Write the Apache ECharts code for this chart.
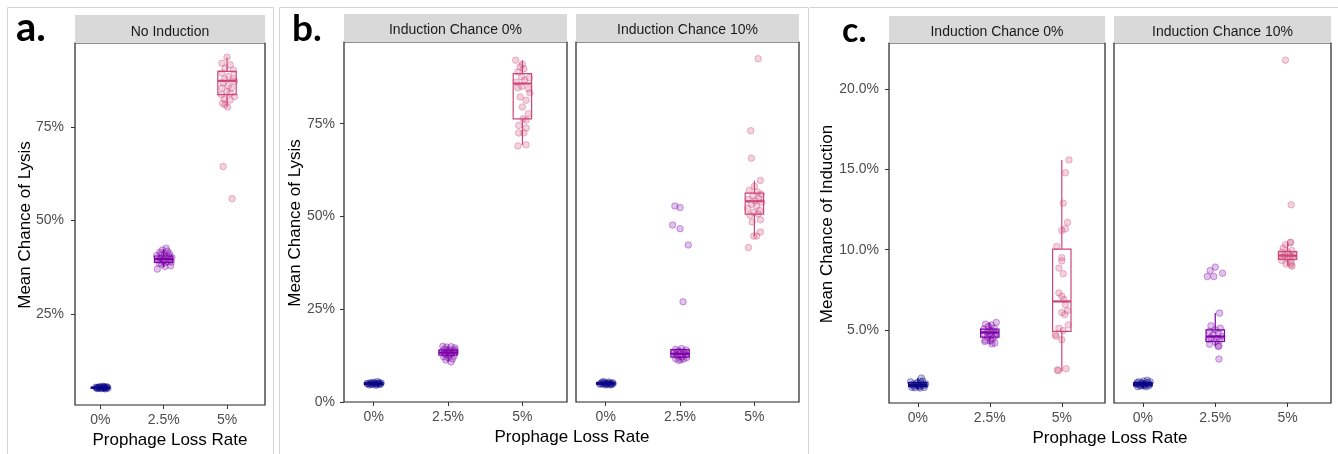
<!DOCTYPE html>
<html>
<head>
<meta charset="utf-8">
<script src="https://cdn.jsdelivr.net/npm/echarts@6/dist/echarts.min.js"></script>
<style>
  html, body { margin: 0; padding: 0; background: #fff; }
  #chart { width: 1338px; height: 454px; }
</style>
</head>
<body>
<div id="chart"></div>
<script>
// categories and colours
const lossLabels = ["0%", "2.5%", "5%"];
const lossColors = ["#0D0887", "#7E03A8", "#CC4778"];

// jittered points: [x offset from category, value in %]
// panel a, no induction
const aLoss0 = [[-0.06,5.3],[-0.03,5.5],[0.00,5.2],[0.03,5.4],[0.06,5.6],[0.09,5.3],[0.11,5.45],[-0.05,5.1],[0.02,5.05],[0.07,5.15],[-0.02,5.35],[0.05,5.25],[0.10,5.55],[-0.07,5.45],[0.04,5.7],[0.08,5.0],[0.00,5.6],[-0.04,5.2],[0.06,5.4],[0.12,5.2]];
const aLoss25 = [[0.04,42.6],[-0.02,42.1],[-0.06,41.5],[0.09,41.2],[-0.11,40.6],[0.01,40.8],[0.13,40.1],[-0.08,39.4],[0.07,39.0],[-0.03,38.3],[0.11,37.9],[0.02,37.7],[-0.10,37.0],[0.05,40.3],[-0.05,39.9],[0.10,39.6],[-0.01,39.2],[0.03,38.8],[-0.07,38.6],[0.08,40.7],[-0.04,41.0],[0.12,38.9],[0.00,39.5],[0.06,41.8]];
const aLoss5 = [[0.00,93.6],[-0.08,92.0],[0.05,91.6],[-0.03,90.7],[0.10,90.2],[-0.08,89.4],[0.03,88.5],[0.10,88.0],[-0.04,87.8],[0.12,87.1],[-0.06,86.7],[0.02,86.0],[0.07,85.4],[-0.08,85.4],[0.00,84.4],[0.05,84.0],[-0.09,83.6],[0.12,83.1],[-0.04,82.4],[0.05,82.2],[-0.07,81.3],[-0.03,80.9],[0.01,80.3],[-0.06,64.4],[0.08,55.8]];

// panel b, lysis, induction 0%
const bInd0Loss0 = [[-0.08,4.9],[-0.05,5.1],[-0.02,4.7],[0.01,5.0],[0.04,4.8],[0.07,5.2],[0.09,4.9],[-0.06,4.6],[0.00,5.3],[0.03,4.5],[0.06,5.0],[-0.03,5.2],[0.08,4.7],[-0.09,5.0],[0.02,4.9],[0.05,5.5],[-0.04,4.8],[0.10,5.1]];
const bInd0Loss25 = [[-0.07,15.0],[-0.02,14.8],[0.04,14.9],[0.09,14.6],[-0.05,14.2],[0.01,14.0],[0.07,13.8],[-0.08,13.6],[-0.01,13.4],[0.05,13.2],[0.10,13.5],[-0.04,12.9],[0.03,12.7],[0.08,12.4],[-0.06,12.2],[0.00,11.9],[0.06,11.6],[-0.03,11.3],[0.04,10.8],[0.02,13.0],[-0.05,13.1],[0.09,14.1]];
const bInd0Loss5 = [[-0.09,92.1],[0.00,91.0],[-0.03,90.3],[0.02,89.8],[-0.06,88.9],[0.09,87.4],[-0.01,87.6],[0.03,86.7],[-0.08,86.2],[-0.01,85.1],[-0.06,84.7],[0.08,84.4],[0.10,83.3],[-0.03,82.2],[0.05,81.3],[0.00,79.5],[0.08,77.7],[0.01,76.3],[0.05,75.9],[-0.05,74.5],[0.05,73.8],[-0.05,72.5],[0.02,72.5],[-0.06,69.0],[0.05,69.3]];

// panel b, lysis, induction 10%
const bInd10Loss0 = [[-0.07,5.0],[-0.04,4.8],[-0.01,5.2],[0.02,4.9],[0.05,5.1],[0.08,4.7],[0.10,5.0],[-0.05,5.3],[0.00,4.6],[0.04,5.4],[0.07,4.9],[-0.02,5.0],[0.09,5.2],[-0.08,4.8],[0.03,5.0],[0.06,4.6],[-0.03,5.5],[0.01,4.8]];
const bInd10Loss25 = [[-0.07,52.8],[0.00,52.4],[-0.10,47.7],[0.00,46.7],[0.11,42.3],[0.04,27.0],[-0.06,14.2],[0.02,14.4],[0.08,14.0],[-0.03,13.7],[0.05,13.5],[-0.08,13.2],[0.00,13.0],[0.07,12.8],[-0.04,12.5],[0.03,12.2],[0.09,12.0],[-0.06,11.7],[0.01,11.4],[-0.02,11.2],[0.05,11.6],[0.06,13.3],[-0.05,12.9]];
const bInd10Loss5 = [[0.05,92.5],[-0.05,73.1],[-0.04,65.7],[0.08,59.7],[0.00,58.1],[-0.07,57.0],[0.04,56.6],[0.09,56.0],[-0.02,55.5],[0.06,55.0],[-0.08,54.6],[0.01,54.2],[0.10,53.8],[-0.04,53.3],[0.03,52.8],[-0.09,52.2],[0.07,51.6],[-0.01,51.1],[0.05,50.7],[-0.06,50.3],[0.08,49.1],[-0.03,48.5],[0.08,45.8],[-0.01,44.7],[0.03,44.7],[-0.08,41.6]];

// panel c, induction, induction 0%
const cInd0Loss0 = [[0.05,1.99],[-0.10,1.75],[-0.06,1.5],[-0.02,1.65],[0.02,1.45],[0.06,1.6],[0.09,1.4],[-0.08,1.4],[0.00,1.55],[0.04,1.75],[-0.04,1.38],[0.08,1.52],[-0.01,1.7],[0.11,1.62],[0.03,1.36],[-0.07,1.6],[0.07,1.8],[0.01,1.48]];
const cInd0Loss25 = [[0.09,5.46],[-0.06,5.35],[0.02,5.3],[-0.02,5.2],[0.06,5.1],[-0.08,5.05],[0.00,4.95],[0.05,4.9],[-0.04,4.85],[0.08,4.8],[-0.07,4.7],[0.02,4.65],[0.07,4.6],[-0.03,4.55],[0.04,4.45],[-0.06,4.35],[0.01,4.3],[-0.07,4.27],[0.07,4.17],[0.03,4.12],[-0.01,4.75]];
const cInd0Loss5 = [[0.10,15.6],[0.05,14.8],[0.02,12.9],[0.08,11.7],[0.00,11.2],[0.05,11.3],[-0.07,10.2],[0.00,9.5],[0.00,9.3],[-0.04,8.85],[0.02,8.5],[-0.04,7.3],[0.00,7.1],[0.03,6.9],[0.05,6.56],[0.00,6.08],[0.04,5.95],[0.08,6.2],[0.09,5.3],[-0.04,5.1],[0.02,4.95],[-0.09,4.7],[-0.08,4.6],[0.00,4.38],[-0.06,2.5],[-0.05,2.45],[0.06,2.57]];

// panel c, induction, induction 10%
const cInd10Loss0 = [[-0.09,1.6],[-0.06,1.75],[-0.03,1.5],[0.00,1.65],[0.03,1.55],[0.06,1.7],[0.09,1.6],[-0.07,1.45],[0.01,1.8],[0.04,1.45],[0.08,1.5],[-0.02,1.7],[0.10,1.75],[-0.05,1.55],[0.02,1.6],[0.06,1.85],[-0.08,1.7],[0.00,1.5]];
const cInd10Loss25 = [[0.00,8.91],[-0.07,8.7],[0.10,8.53],[-0.11,8.32],[-0.02,8.32],[0.06,6.04],[-0.06,5.25],[0.07,5.1],[0.00,5.0],[-0.08,4.9],[0.04,4.8],[-0.03,4.7],[0.09,4.6],[-0.06,4.5],[0.02,4.45],[-0.09,4.4],[0.06,4.35],[0.00,4.25],[0.05,4.0],[0.04,3.95],[-0.08,4.1],[0.05,3.17]];
const cInd10Loss5 = [[-0.03,21.83],[0.05,12.8],[0.04,10.47],[0.04,10.44],[-0.03,10.3],[-0.06,10.1],[0.06,9.95],[-0.08,9.85],[0.01,9.8],[0.08,9.7],[-0.04,9.65],[0.03,9.6],[-0.07,9.55],[0.07,9.5],[0.00,9.45],[-0.08,9.32],[0.05,9.2],[0.05,9.05],[0.06,8.97],[-0.02,9.1]];

// box stats per category: [lower whisker, Q1, median, Q3, upper whisker]
const aBoxes = [[4.9,5.15,5.3,5.45,5.7],[37.5,38.8,39.7,40.5,42.3],[80.5,83.6,87.3,89.8,93.5]];
const bInd0Boxes = [[4.4,4.75,4.95,5.15,5.5],[10.9,12.6,13.3,14.0,15.0],[69.2,76.3,85.8,88.5,92.1]];
const bInd10Boxes = [[4.5,4.8,5.0,5.2,5.5],[11.2,12.1,13.0,14.1,14.6],[44.7,50.6,54.1,56.3,59.7]];
const cInd0Boxes = [[1.3,1.45,1.57,1.7,2.0],[4.1,4.54,4.83,5.04,5.46],[2.4,4.9,6.77,10.03,15.6]];
const cInd10Boxes = [[1.35,1.5,1.6,1.7,1.85],[3.95,4.27,4.58,5.0,6.04],[9.0,9.4,9.63,9.88,10.45]];

// y tick labels
const lysisTicksA = [25, 50, 75];
const lysisTicksB = [0, 25, 50, 75];
const inductionTicks = [5, 10, 15, 20];

const FONT = "Liberation Sans, Arial, sans-serif";

const facets = [
  { grid: { left: 75, top: 43, width: 190, height: 362 }, min: 0.7, max: 97.4, ticks: lysisTicksA, fmt: v => v + "%", showY: true, margin: 11,
    points: [aLoss0, aLoss25, aLoss5], boxes: aBoxes, strip: "No Induction", stripY: 15, stripH: 28, textY: 32 },
  { grid: { left: 344, top: 42, width: 223, height: 360 }, min: 0, max: 97, ticks: lysisTicksB, fmt: v => v + "%", showY: true, margin: 9,
    points: [bInd0Loss0, bInd0Loss25, bInd0Loss5], boxes: bInd0Boxes, strip: "Induction Chance 0%", stripY: 14, stripH: 28, textY: 30.5 },
  { grid: { left: 576, top: 42, width: 223, height: 360 }, min: 0, max: 97, ticks: lysisTicksB, fmt: v => v + "%", showY: false,
    points: [bInd10Loss0, bInd10Loss25, bInd10Loss5], boxes: bInd10Boxes, strip: "Induction Chance 10%", stripY: 14, stripH: 28, textY: 30.5 },
  { grid: { left: 889, top: 43, width: 216, height: 360 }, min: 0.43, max: 22.9, ticks: inductionTicks, fmt: v => v.toFixed(1) + "%", showY: true, margin: 10,
    points: [cInd0Loss0, cInd0Loss25, cInd0Loss5], boxes: cInd0Boxes, strip: "Induction Chance 0%", stripY: 16, stripH: 27, textY: 32 },
  { grid: { left: 1114, top: 43, width: 217, height: 360 }, min: 0.43, max: 22.9, ticks: inductionTicks, fmt: v => v.toFixed(1) + "%", showY: false,
    points: [cInd10Loss0, cInd10Loss25, cInd10Loss5], boxes: cInd10Boxes, strip: "Induction Chance 10%", stripY: 16, stripH: 27, textY: 32 }
];

// box + whisker without end caps, like ggplot
const BOX_HALF = 9.2;
const renderBox = (params, api) => {
  const x = api.value(0);
  const lo = api.coord([x, api.value(1)]);
  const q1 = api.coord([x, api.value(2)]);
  const med = api.coord([x, api.value(3)]);
  const q3 = api.coord([x, api.value(4)]);
  const hi = api.coord([x, api.value(5)]);
  const color = lossColors[x];
  const st = { stroke: color, lineWidth: 1.2, fill: "none" };
  return {
    type: "group",
    children: [
      { type: "line", shape: { x1: lo[0], y1: lo[1], x2: q1[0], y2: q1[1] }, style: st },
      { type: "line", shape: { x1: q3[0], y1: q3[1], x2: hi[0], y2: hi[1] }, style: st },
      { type: "rect", shape: { x: q3[0] - BOX_HALF, y: q3[1], width: BOX_HALF * 2, height: q1[1] - q3[1] }, style: st },
      { type: "line", shape: { x1: med[0] - BOX_HALF, y1: med[1], x2: med[0] + BOX_HALF, y2: med[1] }, style: { stroke: color, lineWidth: 2.2 } }
    ]
  };
};

const hexToRgba = (hex, a) => {
  const n = parseInt(hex.slice(1), 16);
  return `rgba(${(n >> 16) & 255}, ${(n >> 8) & 255}, ${n & 255}, ${a})`;
};

const grids = [];
const xAxes = [];
const yAxes = [];
const series = [];
const graphics = [];

facets.forEach((f, i) => {
  grids.push({ ...f.grid, show: true, borderColor: "#222", borderWidth: 1.2, backgroundColor: "#fff", containLabel: false });
  xAxes.push({
    gridIndex: i, type: "value", min: -0.4, max: 2.6, position: "bottom",
    axisLine: { show: false, onZero: false }, splitLine: { show: false },
    axisTick: { show: true, length: 4, lineStyle: { color: "#333" }, customValues: [0, 1, 2] },
    axisLabel: { color: "#4D4D4D", fontSize: 14, fontFamily: FONT, margin: 8, customValues: [0, 1, 2], formatter: v => lossLabels[Math.round(v)] }
  });
  yAxes.push({
    gridIndex: i, type: "value", min: f.min, max: f.max, position: "left",
    axisLine: { show: false, onZero: false }, splitLine: { show: false },
    axisTick: { show: f.showY, length: 4, lineStyle: { color: "#333" }, customValues: f.ticks },
    axisLabel: { show: f.showY, color: "#4D4D4D", fontSize: 14, fontFamily: FONT, margin: f.margin || 8, customValues: f.ticks, formatter: f.fmt }
  });

  series.push({
    type: "custom", xAxisIndex: i, yAxisIndex: i, renderItem: renderBox, z: 2,
    encode: { x: 0, y: [1, 2, 3, 4, 5] },
    data: f.boxes.map((b, k) => [k, ...b])
  });

  f.points.forEach((pts, k) => {
    series.push({
      type: "scatter", xAxisIndex: i, yAxisIndex: i, z: 3,
      symbolSize: 6.5,
      itemStyle: { color: hexToRgba(lossColors[k], 0.3), borderColor: hexToRgba(lossColors[k], 0.45), borderWidth: 1 },
      data: pts.map(p => [k + p[0], p[1]])
    });
  });

  // facet strip
  graphics.push({ type: "rect", shape: { x: f.grid.left, y: f.stripY, width: f.grid.width, height: f.stripH }, style: { fill: "#D9D9D9" } });
  graphics.push({ type: "text", x: f.grid.left + f.grid.width / 2, y: f.textY,
    style: { text: f.strip, fill: "#1A1A1A", font: `14px ${FONT}`, align: "center", verticalAlign: "middle" } });
});

// card borders of the three figures
const cardLine = { stroke: "#D4D4D4", lineWidth: 1 };
graphics.push(
  { type: "polyline", shape: { points: [[7.5, 454], [7.5, 7.5], [273.5, 7.5], [273.5, 454]] }, style: { ...cardLine, fill: "none" } },
  { type: "polyline", shape: { points: [[279.5, 454], [279.5, 7.5], [808.5, 7.5], [808.5, 454]] }, style: { ...cardLine, fill: "none" } },
  { type: "line", shape: { x1: 810, y1: 7.5, x2: 1338, y2: 7.5 }, style: cardLine }
);

// panel letters
const letterFont = size => `bold ${size}px Lato, "Open Sans", sans-serif`;
graphics.push(
  { type: "text", x: 16, y: 48, style: { text: "a.", fill: "#000", font: letterFont(40), verticalAlign: "bottom" } },
  { type: "text", x: 292, y: 48, style: { text: "b.", fill: "#000", font: letterFont(37), verticalAlign: "bottom" } },
  { type: "text", x: 842, y: 48, style: { text: "c.", fill: "#000", font: letterFont(34), verticalAlign: "bottom" } }
);

// axis titles
const titleStyle = text => ({ text, fill: "#000", font: `17px ${FONT}`, align: "center", verticalAlign: "middle" });
graphics.push(
  { type: "text", x: 170, y: 440, style: titleStyle("Prophage Loss Rate") },
  { type: "text", x: 572, y: 437, style: titleStyle("Prophage Loss Rate") },
  { type: "text", x: 1110, y: 438, style: titleStyle("Prophage Loss Rate") },
  { type: "text", x: 25, y: 225, rotation: Math.PI / 2, style: titleStyle("Mean Chance of Lysis") },
  { type: "text", x: 295, y: 223, rotation: Math.PI / 2, style: titleStyle("Mean Chance of Lysis") },
  { type: "text", x: 827, y: 224, rotation: Math.PI / 2, style: titleStyle("Mean Chance of Induction") }
);

const chart = echarts.init(document.getElementById("chart"), null, { renderer: "canvas" });
chart.setOption({
  animation: false,
  backgroundColor: "#fff",
  grid: grids,
  xAxis: xAxes,
  yAxis: yAxes,
  series: series,
  graphic: graphics
});
</script>
</body>
</html>
